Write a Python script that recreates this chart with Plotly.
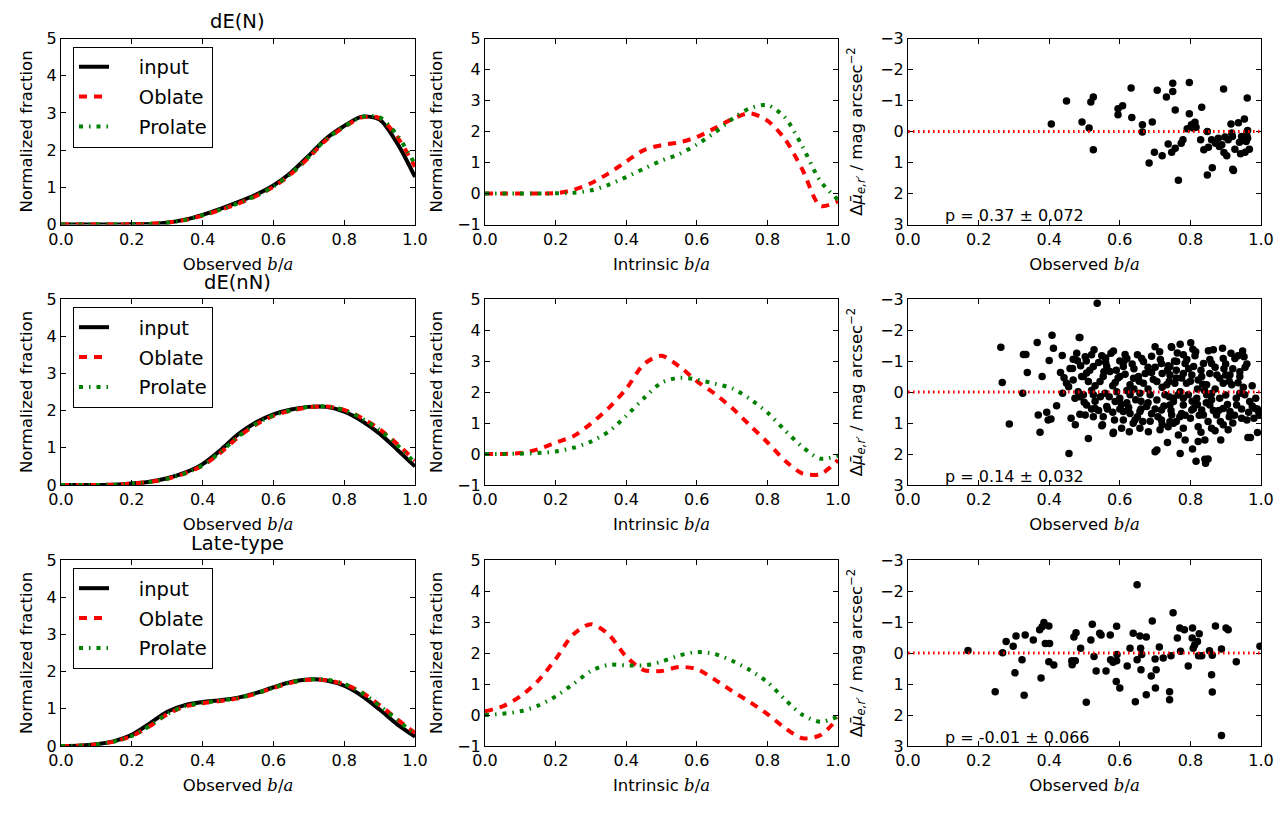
import plotly.graph_objects as go

# ---------------- data ----------------
ba_grid = [0.00, 0.05, 0.10, 0.15, 0.20, 0.25, 0.30, 0.35, 0.40, 0.45, 0.50,
           0.55, 0.60, 0.65, 0.70, 0.75, 0.80, 0.85, 0.90, 0.95, 1.00]

row_titles = ["dE(N)", "dE(nN)", "Late-type"]
legend_names = ["input", "Oblate", "Prolate"]
p_labels = ["p = 0.37 \u00b1 0.072", "p = 0.14 \u00b1 0.032", "p = -0.01 \u00b1 0.066"]

# observed b/a distributions (left column)
obs_input_N = [0, 0, 0, 0, 0.005, 0.015, 0.05, 0.13, 0.26, 0.42, 0.60, 0.80, 1.05, 1.40, 1.85, 2.32, 2.65, 2.90, 2.82, 2.18, 1.28]
obs_oblate_N = [0, 0, 0, 0, 0.005, 0.015, 0.05, 0.12, 0.24, 0.39, 0.56, 0.76, 1.01, 1.36, 1.80, 2.28, 2.62, 2.88, 2.86, 2.35, 1.55]
obs_prolate_N = [0, 0, 0, 0, 0.005, 0.015, 0.05, 0.12, 0.25, 0.40, 0.57, 0.77, 1.02, 1.37, 1.82, 2.30, 2.63, 2.89, 2.88, 2.40, 1.62]

obs_input_nN = [0, 0, 0, 0.01, 0.04, 0.09, 0.18, 0.33, 0.56, 0.93, 1.36, 1.68, 1.90, 2.03, 2.10, 2.10, 1.97, 1.72, 1.38, 0.95, 0.50]
obs_oblate_nN = [0, 0, 0, 0.01, 0.04, 0.08, 0.17, 0.31, 0.52, 0.86, 1.28, 1.62, 1.86, 2.00, 2.09, 2.11, 2.02, 1.80, 1.50, 1.10, 0.66]
obs_prolate_nN = [0, 0, 0, 0.01, 0.04, 0.08, 0.17, 0.31, 0.53, 0.88, 1.30, 1.64, 1.87, 2.01, 2.10, 2.11, 2.01, 1.79, 1.48, 1.07, 0.60]

obs_input_late = [0, 0.01, 0.05, 0.13, 0.30, 0.60, 0.92, 1.10, 1.18, 1.23, 1.30, 1.42, 1.58, 1.72, 1.79, 1.76, 1.62, 1.35, 0.98, 0.58, 0.25]
obs_oblate_late = [0, 0.01, 0.04, 0.12, 0.27, 0.53, 0.85, 1.06, 1.15, 1.21, 1.28, 1.40, 1.56, 1.70, 1.78, 1.77, 1.66, 1.44, 1.10, 0.72, 0.35]
obs_prolate_late = [0, 0.01, 0.04, 0.12, 0.27, 0.54, 0.86, 1.07, 1.16, 1.22, 1.29, 1.41, 1.57, 1.71, 1.79, 1.78, 1.67, 1.43, 1.08, 0.70, 0.32]

# intrinsic b/a distributions (middle column)
int_oblate_N = [0, 0, 0, 0, 0.01, 0.11, 0.33, 0.65, 1.03, 1.40, 1.56, 1.65, 1.82, 2.10, 2.40, 2.59, 2.35, 1.75, 0.75, -0.40, -0.25]
int_prolate_N = [0, 0, 0, 0, 0.005, 0.02, 0.10, 0.28, 0.53, 0.80, 1.06, 1.27, 1.58, 1.96, 2.40, 2.75, 2.85, 2.45, 1.50, 0.40, -0.20]

int_oblate_nN = [0, 0, 0.03, 0.15, 0.37, 0.57, 0.98, 1.48, 2.10, 2.90, 3.17, 2.83, 2.35, 1.95, 1.48, 0.93, 0.38, -0.22, -0.63, -0.65, -0.20]
int_prolate_nN = [0, 0, 0.01, 0.03, 0.08, 0.20, 0.40, 0.72, 1.23, 1.80, 2.30, 2.46, 2.40, 2.27, 2.12, 1.78, 1.34, 0.76, 0.22, -0.15, -0.05]

int_oblate_late = [0.12, 0.28, 0.60, 1.10, 1.80, 2.60, 2.93, 2.60, 1.88, 1.45, 1.42, 1.55, 1.48, 1.15, 0.77, 0.42, 0.03, -0.42, -0.75, -0.65, -0.10]
int_prolate_late = [0, 0.04, 0.12, 0.30, 0.60, 1.00, 1.42, 1.62, 1.60, 1.60, 1.72, 1.92, 2.03, 1.97, 1.75, 1.45, 1.06, 0.50, 0.00, -0.22, -0.05]

# scatter: (observed b/a, delta mu)
scat_N = [(0.406, -0.24), (0.449, -0.98), (0.493, -0.31), (0.513, -0.11), (0.518, -0.95), (0.525, -1.11), (0.525, 0.59),
          (0.595, -0.73), (0.595, -0.54), (0.608, -0.83), (0.632, -1.40), (0.634, -0.45), (0.664, -0.22), (0.664, 0.02),
          (0.692, -0.31), (0.698, 0.67), (0.683, 1.02), (0.706, -1.33), (0.720, 0.78), (0.732, -1.11), (0.737, 0.40),
          (0.747, 0.67), (0.750, -1.56), (0.750, -1.29), (0.757, -0.69), (0.757, 0.54), (0.766, 1.57), (0.774, 0.38),
          (0.779, 0.27), (0.797, -1.58), (0.797, -0.57), (0.791, -0.09), (0.803, -0.22), (0.808, -0.11), (0.813, -0.30),
          (0.816, -0.14), (0.832, -0.78), (0.829, 0.27), (0.838, 0.59), (0.848, 0.00), (0.848, 1.40), (0.851, 0.51),
          (0.862, 1.17), (0.860, 0.27), (0.871, 0.38), (0.882, 0.48), (0.889, 0.43), (0.894, -1.37), (0.895, 0.68),
          (0.903, 0.78), (0.907, 0.27), (0.915, -0.24), (0.917, 0.05), (0.919, 0.16), (0.920, 1.22), (0.922, 1.26),
          (0.926, 0.57), (0.936, -0.28), (0.939, 0.35), (0.942, 0.72), (0.945, 0.16), (0.953, -0.40), (0.955, 0.67),
          (0.958, 0.32), (0.961, -1.08), (0.962, -0.03), (0.962, 0.22), (0.967, 0.57), (0.960, 0.14), (0.898, 0.18),
          (0.879, 0.22), (0.808, -0.24)]

scat_nN = [(0.263, -1.44), (0.267, -0.31), (0.287, 1.03), (0.327, -1.21), (0.334, -1.21), (0.325, 0.04), (0.338, -0.63),
           (0.366, -1.60), (0.369, 0.74), (0.374, 1.30), (0.380, -0.50), (0.393, 0.65), (0.400, -1.02), (0.397, 0.90),
           (0.408, -1.83), (0.412, -1.41), (0.405, 0.87), (0.421, 0.44), (0.437, -1.18), (0.432, -0.63), (0.438, 0.04),
           (0.456, 1.98), (0.462, 0.85), (0.474, 1.06), (0.485, -1.76), (0.468, -1.06), (0.478, -1.25), (0.480, -1.01),
           (0.459, -0.76), (0.466, -0.76), (0.442, -0.46), (0.449, -0.28), (0.455, -0.17), (0.468, -0.39), (0.489, -0.85),
           (0.492, -0.50), (0.482, -0.01), (0.473, 0.20), (0.487, 0.15), (0.499, 0.33), (0.487, 0.72), (0.497, -0.50),
           (0.536, -2.86), (0.487, -1.76), (0.527, -1.36), (0.502, -1.14), (0.549, -1.17), (0.582, -1.32), (0.615, -1.21),
           (0.620, -1.08), (0.662, -1.08), (0.667, -0.98), (0.700, -1.46), (0.713, -1.30), (0.746, -1.46), (0.525, -0.82),
           (0.563, -0.82), (0.572, -0.66), (0.610, -0.82), (0.615, -0.57), (0.639, -0.44), (0.653, -0.50), (0.690, -0.63),
           (0.718, -0.92), (0.737, -0.85), (0.742, -0.55), (0.506, -0.61), (0.511, -0.34), (0.544, -0.34), (0.553, -0.50),
           (0.587, -0.31), (0.629, -0.23), (0.667, -0.28), (0.705, -0.34), (0.733, -0.23), (0.497, 0.09), (0.525, 0.09),
           (0.558, 0.04), (0.591, -0.01), (0.600, 0.20), (0.629, 0.09), (0.657, 0.04), (0.686, 0.09), (0.705, 0.26),
           (0.728, 0.09), (0.752, 0.20), (0.506, 0.42), (0.530, 0.53), (0.563, 0.47), (0.587, 0.31), (0.610, 0.63),
           (0.629, 0.69), (0.657, 0.63), (0.676, 0.47), (0.718, 0.58), (0.742, 0.42), (0.502, 0.74), (0.525, 0.80),
           (0.553, 0.80), (0.610, 0.90), (0.643, 0.90), (0.686, 0.94), (0.718, 0.90), (0.742, 0.96), (0.551, 1.06),
           (0.582, 1.30), (0.605, 1.17), (0.638, 1.01), (0.657, 1.17), (0.681, 1.28), (0.714, 1.22), (0.737, 1.12),
           (0.511, 1.50), (0.705, 1.87), (0.700, 1.93), (0.735, 1.63), (0.627, 1.28), (0.549, 1.09), (0.581, 1.34),
           (0.801, -1.59), (0.807, -1.38), (0.771, -1.54), (0.747, -1.44), (0.763, -1.26), (0.813, -1.17), (0.851, -1.33),
           (0.865, -1.36), (0.891, -1.41), (0.860, -0.92), (0.893, -1.08), (0.926, -1.08), (0.935, -1.17), (0.948, -1.32),
           (0.952, -1.14), (0.742, -0.82), (0.761, -0.98), (0.785, -0.92), (0.809, -0.82), (0.837, -0.92), (0.780, -0.60),
           (0.804, -0.55), (0.832, -0.50), (0.855, -0.60), (0.883, -0.44), (0.912, -0.55), (0.940, -0.50), (0.756, -0.28),
           (0.789, -0.28), (0.822, -0.39), (0.846, -0.23), (0.893, -0.28), (0.917, -0.23), (0.771, -0.01), (0.794, 0.09),
           (0.818, 0.20), (0.846, 0.09), (0.883, 0.20), (0.940, 0.04), (0.954, 0.09), (0.968, 0.31), (0.752, 0.31),
           (0.780, 0.42), (0.809, 0.53), (0.832, 0.58), (0.855, 0.42), (0.893, 0.53), (0.912, 0.63), (0.931, 0.42),
           (0.983, 0.53), (0.993, 0.63), (0.747, 0.74), (0.775, 0.69), (0.804, 0.58), (0.837, 0.74), (0.874, 0.74),
           (0.945, 0.85), (0.960, 0.90), (0.752, 1.01), (0.780, 1.17), (0.822, 1.12), (0.860, 1.17), (0.893, 1.06),
           (0.907, 1.22), (0.766, 1.39), (0.785, 1.55), (0.806, 1.84), (0.822, 1.60), (0.841, 1.55), (0.886, 1.55),
           (0.963, 1.47), (0.970, 1.47), (0.990, 1.31), (0.771, 1.98), (0.816, 2.23), (0.841, 2.17), (0.843, 2.30),
           (0.850, 2.16), (0.520, -1.20), (0.540, -0.95), (0.560, -1.10), (0.590, -0.70), (0.600, -1.00), (0.640, -0.75),
           (0.650, -1.20), (0.680, -0.80), (0.690, -1.15), (0.720, -0.60), (0.760, -0.70), (0.790, -1.05), (0.830, -0.70),
           (0.870, -0.80), (0.900, -0.90), (0.920, -0.75), (0.960, -0.90), (0.530, 0.30), (0.570, 0.15), (0.620, 0.35),
           (0.660, 0.30), (0.700, 0.55), (0.740, 0.15), (0.780, 0.20), (0.820, 0.40), (0.860, 0.25), (0.900, 0.10),
           (0.930, 0.20), (0.975, 0.45), (0.540, 0.60), (0.600, 0.55), (0.650, 0.80), (0.690, 0.70), (0.760, 0.95),
           (0.800, 0.85), (0.850, 0.95), (0.880, 0.60), (0.920, 1.00), (0.520, -0.05), (0.580, -0.20), (0.620, -0.05),
           (0.680, -0.10), (0.720, -0.15), (0.760, -0.45), (0.800, -0.35), (0.840, -0.05), (0.870, -0.10), (0.910, -0.35),
           (0.950, -0.15), (0.985, 0.20),
           (0.505, -1.00), (0.515, -0.70), (0.530, -0.20), (0.545, 0.15), (0.555, -0.65), (0.565, 0.55), (0.575, -1.25),
           (0.585, 0.90), (0.595, -0.45), (0.605, 0.40), (0.612, -1.00), (0.625, 0.50), (0.635, -0.90), (0.645, 0.25),
           (0.655, -0.35), (0.665, 0.95), (0.672, -0.60), (0.680, 0.35), (0.695, -0.40), (0.708, 0.80), (0.715, -1.05),
           (0.725, 0.45), (0.735, -0.70), (0.745, 0.60), (0.755, -1.00), (0.765, 0.10), (0.775, -0.45), (0.785, 0.75),
           (0.795, -0.75), (0.805, 0.30), (0.815, -1.30), (0.825, 0.75), (0.835, -0.25), (0.845, 0.35), (0.855, -1.05),
           (0.865, 0.60), (0.875, -0.55), (0.885, 0.95), (0.895, -0.75), (0.905, 0.40), (0.915, -1.25), (0.925, 0.75),
           (0.935, -0.30), (0.945, 0.55), (0.955, -0.80), (0.965, 0.65), (0.975, -0.20), (0.980, 0.85), (0.990, 0.55),
           (0.995, 0.75), (0.560, -0.95), (0.600, -0.50), (0.640, -0.10), (0.700, -0.80), (0.740, -0.35), (0.780, -1.20),
           (0.820, -0.10), (0.860, 0.05), (0.900, -0.55), (0.940, -0.65), (0.520, 0.55), (0.580, 0.65), (0.660, 0.55),
           (0.720, 1.05), (0.770, 0.80), (0.830, 1.30), (0.870, 1.25), (0.910, 0.80)]

scat_late = [(0.170, -0.08), (0.247, 1.25), (0.268, -0.01), (0.278, -0.37), (0.298, -0.22), (0.306, -0.55), (0.303, 0.64),
             (0.323, 0.22), (0.329, 1.36), (0.332, -0.58), (0.355, -0.42), (0.377, 0.81), (0.373, -0.75), (0.380, -0.85),
             (0.385, -0.98), (0.389, -0.31), (0.399, -0.87), (0.401, -0.31), (0.399, 0.28), (0.413, 0.39), (0.464, 0.25),
             (0.465, 0.38), (0.470, -0.52), (0.476, -0.65), (0.474, 0.25), (0.489, -0.15), (0.505, 1.59), (0.518, -0.42),
             (0.522, -0.93), (0.527, 0.11), (0.533, 0.58), (0.543, -0.64), (0.547, -0.58), (0.561, 0.58), (0.573, -0.58),
             (0.574, 0.22), (0.581, 0.30), (0.590, 0.92), (0.591, -0.86), (0.592, 0.05), (0.591, 0.25), (0.600, 1.13),
             (0.621, 0.42), (0.629, -0.15), (0.638, -0.64), (0.644, 1.57), (0.649, -2.20), (0.649, 0.22), (0.657, -0.55),
             (0.659, -0.15), (0.660, 0.54), (0.662, 0.05), (0.675, -0.52), (0.675, 1.35), (0.689, 0.74), (0.692, -1.03),
             (0.700, 0.19), (0.701, 1.13), (0.703, 0.54), (0.712, -0.19), (0.723, 0.16), (0.741, 1.25), (0.741, 1.51),
             (0.745, 0.09), (0.751, -1.30), (0.763, -0.48), (0.770, -0.81), (0.772, -0.06), (0.783, -0.75), (0.794, 0.42),
             (0.806, -0.81), (0.805, -0.48), (0.808, -0.15), (0.820, -0.37), (0.825, -0.62), (0.823, 0.09), (0.832, 0.09),
             (0.854, -0.07), (0.860, 0.70), (0.862, 1.26), (0.862, 0.07), (0.871, -0.87), (0.888, -0.13), (0.888, 2.66),
             (0.901, -0.81), (0.907, -0.75), (0.930, 0.28), (0.997, -0.22), (0.812, -0.26)]

# ---------------- layout geometry ----------------
W, H = 1283, 821
FONT = "DejaVu Sans"
col_px = [(61, 415), (485, 838), (908, 1261)]
row_px = [(38.5, 224.5), (299, 485), (560, 746)]

obs_sets = [(obs_input_N, obs_oblate_N, obs_prolate_N),
            (obs_input_nN, obs_oblate_nN, obs_prolate_nN),
            (obs_input_late, obs_oblate_late, obs_prolate_late)]
int_sets = [(int_oblate_N, int_prolate_N),
            (int_oblate_nN, int_prolate_nN),
            (int_oblate_late, int_prolate_late)]
scat_sets = [scat_N, scat_nN, scat_late]

RED_DASH = "8px,7px"
GREEN_DASHDOT = "4px,6px,1.5px,6px"
PAD = "\u00a0" * 4  # spacing between legend sample and legend text

fig = go.Figure()
layout = {}
annotations = []
shapes = []

mu_label = ("\u0394<i>\u03bc\u0304</i><sub><i>e,r\u2032</i></sub> / mag arcsec<sup>\u22122</sup>")
math_ba = '<span style="font-family:DejaVu Serif"><i>b</i>/<i>a</i></span>'
LBL = 16.5

for r in range(3):
    legname = "legend" if r == 0 else f"legend{r + 1}"
    for c in range(3):
        k = r * 3 + c + 1
        xa = f"x{k}"
        ya = f"y{k}"
        x0, x1 = col_px[c]
        yt, yb = row_px[r]
        common = dict(showline=True, linecolor="black", linewidth=1, mirror="ticks",
                      ticks="inside", ticklen=5, tickcolor="black", showgrid=False,
                      zeroline=False, automargin=False,
                      tickfont=dict(family=FONT, size=16, color="black"))
        xaxis = dict(common, domain=[x0 / W, x1 / W], anchor=ya, range=[0, 1],
                     tickvals=[0, 0.2, 0.4, 0.6, 0.8, 1.0], tickformat=".1f",
                     title=dict(text=("Observed " if c != 1 else "Intrinsic ") + math_ba,
                                font=dict(family=FONT, size=LBL, color="black"), standoff=10))
        ydom = [1 - yb / H, 1 - yt / H]
        if c == 0:
            yaxis = dict(common, domain=ydom, anchor=xa, range=[0, 5], tickvals=[0, 1, 2, 3, 4, 5],
                         title=dict(text="Normalized fraction", font=dict(family=FONT, size=LBL, color="black"), standoff=9))
        elif c == 1:
            yaxis = dict(common, domain=ydom, anchor=xa, range=[-1, 5], tickvals=[-1, 0, 1, 2, 3, 4, 5],
                         title=dict(text="Normalized fraction", font=dict(family=FONT, size=LBL, color="black"), standoff=10))
        else:
            yaxis = dict(common, domain=ydom, anchor=xa, range=[3, -3], tickvals=[-3, -2, -1, 0, 1, 2, 3],
                         title=dict(text=mu_label, font=dict(family=FONT, size=LBL, color="black"), standoff=13))
        layout["xaxis" if k == 1 else f"xaxis{k}"] = xaxis
        layout["yaxis" if k == 1 else f"yaxis{k}"] = yaxis

        if c == 0:
            inp, obl, pro = obs_sets[r]
            fig.add_trace(go.Scatter(x=ba_grid, y=inp, mode="lines", name=PAD + legend_names[0], xaxis=xa, yaxis=ya,
                                     line=dict(color="black", width=4, shape="spline", smoothing=0.8),
                                     legend=legname, legendgroup=f"in{r}", showlegend=True))
            fig.add_trace(go.Scatter(x=ba_grid, y=obl, mode="lines", name=PAD + legend_names[1], xaxis=xa, yaxis=ya,
                                     line=dict(color="red", width=4, dash=RED_DASH, shape="spline", smoothing=0.8),
                                     legend=legname, legendgroup=f"ob{r}", showlegend=True))
            fig.add_trace(go.Scatter(x=ba_grid, y=pro, mode="lines", name=PAD + legend_names[2], xaxis=xa, yaxis=ya,
                                     line=dict(color="green", width=4, dash=GREEN_DASHDOT, shape="spline", smoothing=0.8),
                                     legend=legname, legendgroup=f"pr{r}", showlegend=True))
            annotations.append(dict(text=row_titles[r], xref="paper", yref="paper",
                                    x=(x0 + x1) / 2 / W, y=1 - (yt - 3) / H, xanchor="center", yanchor="bottom",
                                    showarrow=False, font=dict(family=FONT, size=19.5, color="black")))
            layout[legname] = dict(x=73 / W, y=1 - (yt + 8) / H, xanchor="left", yanchor="top",
                                   bordercolor="black", borderwidth=1, bgcolor="white",
                                   font=dict(family=FONT, size=19.5, color="black"),
                                   tracegroupgap=1.5, traceorder="grouped")
        elif c == 1:
            obl, pro = int_sets[r]
            fig.add_trace(go.Scatter(x=ba_grid, y=obl, mode="lines", name="Oblate", xaxis=xa, yaxis=ya,
                                     line=dict(color="red", width=4, dash=RED_DASH, shape="spline", smoothing=0.8),
                                     showlegend=False))
            fig.add_trace(go.Scatter(x=ba_grid, y=pro, mode="lines", name="Prolate", xaxis=xa, yaxis=ya,
                                     line=dict(color="green", width=4, dash=GREEN_DASHDOT, shape="spline", smoothing=0.8),
                                     showlegend=False))
        else:
            pts = scat_sets[r]
            shapes.append(dict(type="line", xref=f"{xa} domain", yref=ya, x0=0, x1=1, y0=0, y1=0,
                               line=dict(color="red", width=3, dash="1.6px,3.4px"), layer="above"))
            fig.add_trace(go.Scatter(x=[p[0] for p in pts], y=[p[1] for p in pts], mode="markers",
                                     xaxis=xa, yaxis=ya, showlegend=False,
                                     marker=dict(color="black", size=7.5, line=dict(width=0))))
            annotations.append(dict(text=p_labels[r], xref=xa, yref=ya, x=0.1, y=2.72,
                                    xanchor="left", yanchor="middle", showarrow=False,
                                    font=dict(family=FONT, size=16, color="black")))

fig.update_layout(**layout)
fig.update_layout(template="none", width=W, height=H, margin=dict(l=0, r=0, t=0, b=0),
                  paper_bgcolor="white", plot_bgcolor="white", annotations=annotations, shapes=shapes,
                  font=dict(family=FONT, color="black"))

fig.write_html("out.html", config={"displayModeBar": False},
               post_script="document.body.style.margin='0';document.body.style.overflow='hidden';")
